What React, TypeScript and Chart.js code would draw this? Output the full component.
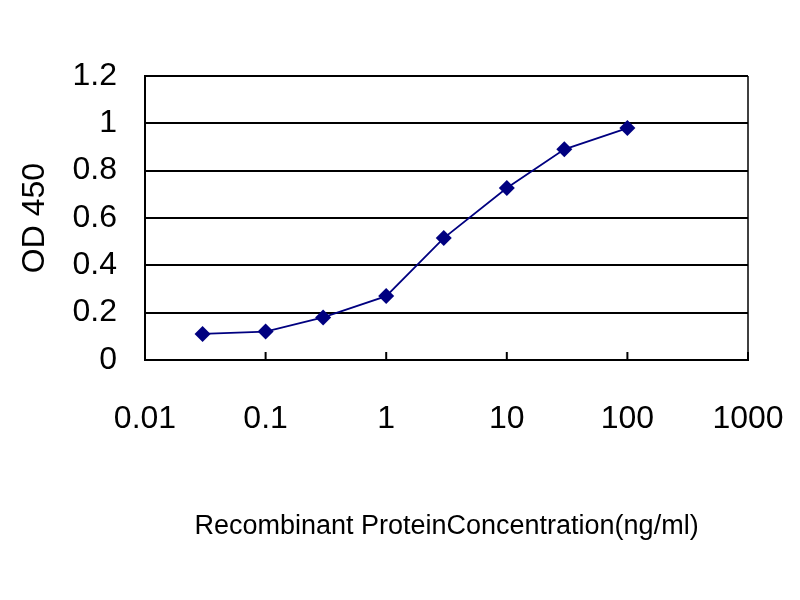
import React, { useEffect, useRef } from "react";
import { Chart, registerables } from "chart.js";

Chart.register(...registerables);

const concentrations = [0.03, 0.1, 0.3, 1, 3, 10, 30, 100];
const od450 = [0.11, 0.12, 0.18, 0.27, 0.515, 0.727, 0.89, 0.98];
const xTicks = [0.01, 0.1, 1, 10, 100, 1000];
const yTitle = "OD 450";
const xTitle = "Recombinant ProteinConcentration(ng/ml)";

const FONT = "'Liberation Sans', Arial, sans-serif";

const framePlugin = {
  id: "frame",
  afterDraw(chart: any) {
    const { ctx, chartArea } = chart;
    const xs = chart.scales.x;
    ctx.save();
    ctx.strokeStyle = "#000";
    ctx.lineWidth = 1.5;
    ctx.beginPath();
    ctx.moveTo(chartArea.right, chartArea.top);
    ctx.lineTo(chartArea.right, chartArea.bottom);
    ctx.stroke();
    ctx.lineWidth = 2;
    xs.ticks.forEach((t: any) => {
      const px = xs.getPixelForValue(t.value);
      ctx.beginPath();
      ctx.moveTo(px, chartArea.bottom);
      ctx.lineTo(px, chartArea.bottom - 8);
      ctx.stroke();
    });
    ctx.restore();
  },
};

export default function App() {
  const ref = useRef<HTMLCanvasElement>(null);
  useEffect(() => {
    if (!ref.current) return;
    const chart = new Chart(ref.current, {
      type: "line",
      data: {
        datasets: [
          {
            data: concentrations.map((c, i) => ({ x: c, y: od450[i] })),
            borderColor: "#000080",
            backgroundColor: "#000080",
            borderWidth: 1.8,
            pointStyle: "rectRot",
            pointRadius: 8,
            pointBorderWidth: 0,
            tension: 0,
          },
        ],
      },
      options: {
        animation: false,
        responsive: false,
        devicePixelRatio: 1,
        layout: { padding: { top: 76, right: 52, left: 0, bottom: 0 } },
        plugins: { legend: { display: false }, tooltip: { enabled: false } },
        scales: {
          x: {
            type: "logarithmic",
            min: 0.01,
            max: 1000,
            afterBuildTicks: (s: any) => {
              s.ticks = xTicks.map((v) => ({ value: v }));
            },
            afterFit: (s: any) => {
              s.height = 240;
              s.paddingRight = 0;
              s.paddingLeft = 0;
            },
            grid: { display: false, drawTicks: false },
            border: { display: true, color: "#000", width: 2 },
            ticks: {
              autoSkip: false,
              maxRotation: 0,
              padding: 40,
              color: "#000",
              font: { family: FONT, size: 32 },
              callback: (v: any) => String(v),
            },
            title: {
              display: true,
              text: xTitle,
              color: "#000",
              font: { family: FONT, size: 27 },
              padding: { top: 0, bottom: 57 },
            },
          },
          y: {
            min: 0,
            max: 1.2,
            afterFit: (s: any) => {
              s.width = 145;
            },
            grid: { color: "#000", lineWidth: 2, drawTicks: false },
            border: { display: true, color: "#000", width: 2 },
            ticks: {
              stepSize: 0.2,
              padding: 28,
              color: "#000",
              font: { family: FONT, size: 32 },
              callback: (v: any) => String(Number(Number(v).toFixed(1))),
            },
            title: {
              display: true,
              text: yTitle,
              color: "#000",
              font: { family: FONT, size: 32 },
              padding: { top: 16, bottom: 0 },
            },
          },
        },
      },
      plugins: [framePlugin],
    });
    return () => chart.destroy();
  }, []);
  return (
    <div style={{ position: "fixed", left: 0, top: 0, width: 800, height: 600, background: "#fff" }}>
      <canvas ref={ref} width={800} height={600} style={{ width: 800, height: 600 }} />
    </div>
  );
}
